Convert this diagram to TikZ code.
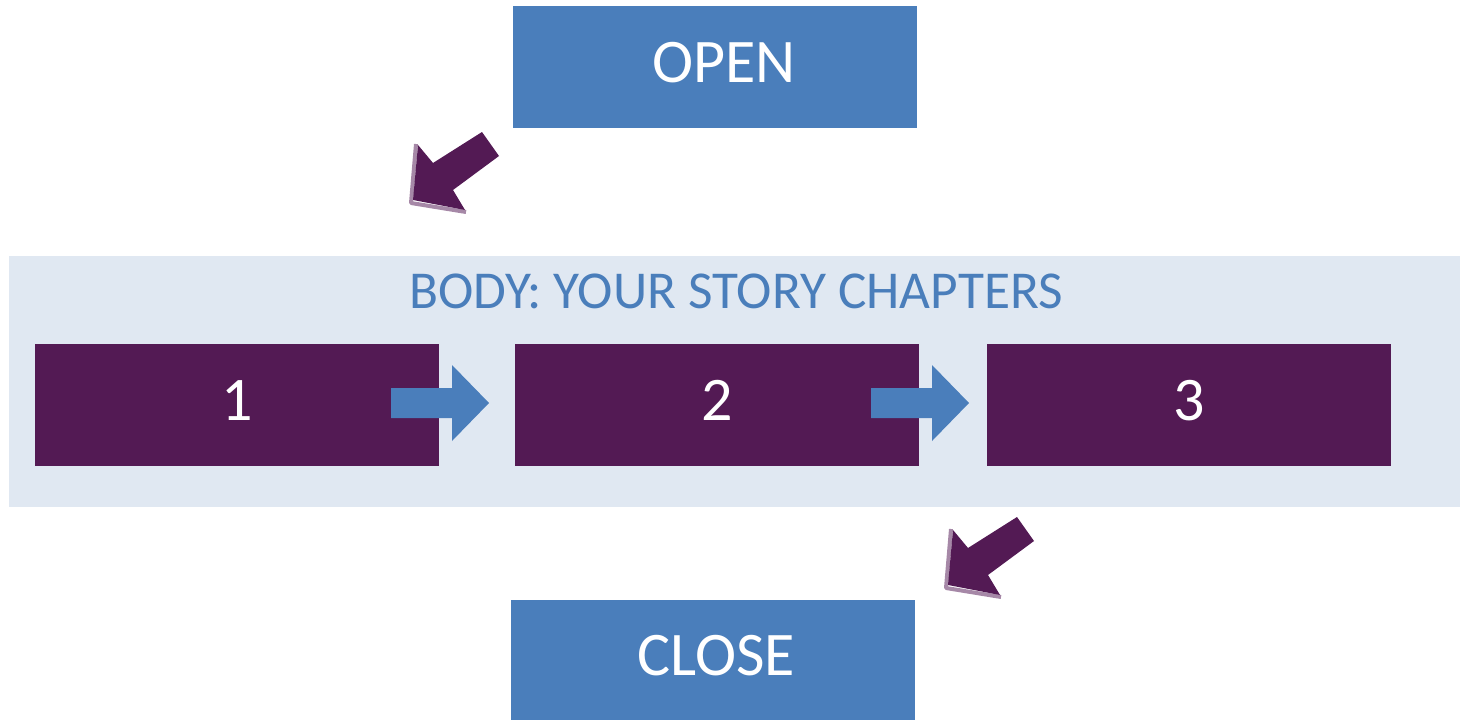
\documentclass[tikz,border=0pt]{standalone}
\usepackage{fontspec}
\setmainfont{Carlito}
\definecolor{sblue}{HTML}{4A7EBB}
\definecolor{spurple}{HTML}{531A54}
\definecolor{slight}{HTML}{E0E8F2}
\definecolor{sshadow}{HTML}{A688A7}
\begin{document}
\begin{tikzpicture}[x=1pt,y=-1pt,
  bluebox/.style={fill=sblue,draw=none,inner sep=0pt,minimum width=404pt,minimum height=122pt},
  chapbox/.style={fill=spurple,draw=none,inner sep=0pt,minimum width=404pt,minimum height=122pt},
  bigtext/.style={text=white,inner sep=0pt,font=\fontsize{62}{62}\selectfont},
  bodytext/.style={text=sblue,inner sep=0pt,font=\fontsize{53.3}{54}\selectfont},
  purplearrow/.style={fill=spurple,draw=none},
  bluearrow/.style={fill=sblue,draw=none}]
\useasboundingbox (0,0) rectangle (1460,720);
% body background
\fill[slight] (9,256) rectangle (1460,507);
% open/close boxes
\node[bluebox,anchor=north west] (open) at (513,6) {};
\node[bigtext,anchor=base] (opent) at (724,82) {OPEN};
\node[bluebox,anchor=north west,minimum height=120pt] (close) at (511,600) {};
\node[bigtext,anchor=base] (closet) at (716,675) {CLOSE};
% body title
\node[bodytext,anchor=base] (bodyt) at (736,308) {BODY: YOUR STORY CHAPTERS};
% chapter boxes
\node[chapbox,anchor=north west] (c1) at (35,344) {};
\node[chapbox,anchor=north west] (c2) at (515,344) {};
\node[chapbox,anchor=north west] (c3) at (987,344) {};
\node[bigtext,anchor=base] (n1) at (237,420) {1};
\node[bigtext,anchor=base] (n2) at (717,420) {2};
\node[bigtext,anchor=base] (n3) at (1189,420) {3};
% blue chevron arrows
\foreach \dx in {0,480}{
  \fill[bluearrow,xshift=\dx pt] (391,388) -- (452,388) -- (452,365) -- (489,403)
     -- (452,441) -- (452,418) -- (391,418) -- cycle;
}
% purple diagonal arrows
\foreach \dx/\dy in {0/0,535/385}{
  \begin{scope}[shift={(\dx,\dy)}]
  \draw[sshadow,line width=4pt,line join=round] (416,144) -- (411,203) -- (466,212);
  \fill[purplearrow] (482,132) -- (499,156) -- (453,190) -- (465,210) -- (413,200)
     -- (418,145) -- (433,163) -- cycle;
  \end{scope}
}
\end{tikzpicture}
\end{document}
